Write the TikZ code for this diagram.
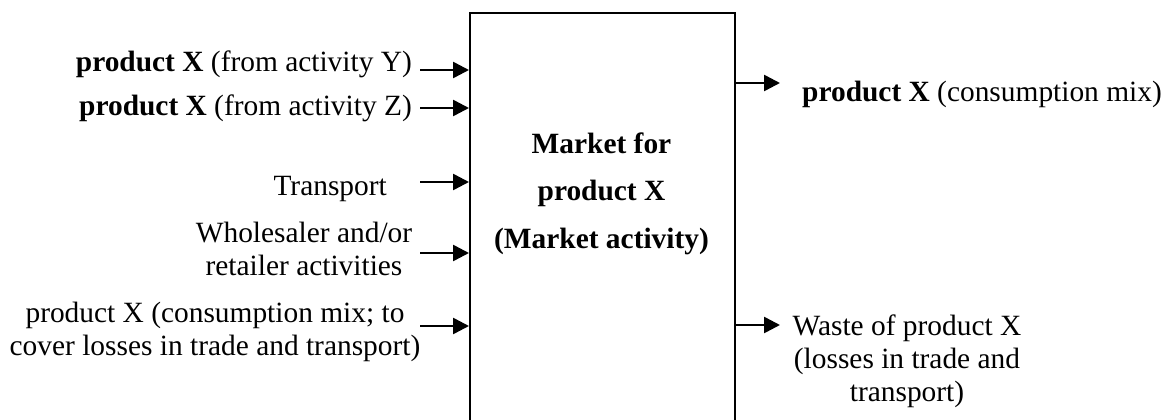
\documentclass[tikz,border=0pt]{standalone}
\usepackage{fontspec}
\setmainfont{Liberation Serif}
\usetikzlibrary{arrows.meta}
\begin{document}
\begin{tikzpicture}[x=1pt,y=-1pt,
  lbl/.style={font=\fontsize{29.4}{33}\selectfont, inner sep=0pt, align=center},
  title/.style={font=\bfseries\fontsize{29.4}{47.5}\selectfont, inner sep=0pt, align=center},
  flow/.style={line width=2.6pt, -{Triangle[length=16pt,width=16pt]}},
  box/.style={draw, line width=2pt, inner sep=0pt}]
\useasboundingbox (0,0) rectangle (1165,420);
\node[box, minimum width=265pt, minimum height=425pt, anchor=north west] (m) at (469,12) {};
\node[title, anchor=base] (mt) at (601.5,248) {Market for\\product X\\(Market activity)};
% inputs
\node[lbl, anchor=base east] (tY) at (412,72) {\textbf{product X} (from activity Y)};
\node[lbl, anchor=base east] (tZ) at (412,115) {\textbf{product X} (from activity Z)};
\node[lbl, anchor=base east] (tT) at (387,195) {Transport};
\node[lbl, anchor=base] (tW) at (304,275) {Wholesaler and/or\\retailer activities};
\node[lbl, anchor=base] (tC) at (215,355) {product X (consumption mix; to\\cover losses in trade and transport)};
% outputs
\node[lbl, anchor=base west] (oP) at (802,101) {\textbf{product X} (consumption mix)};
\node[lbl, anchor=base] (oW) at (907,401) {Waste of product X\\(losses in trade and\\transport)};
% arrow coordinates
\coordinate (sY) at (420,70);
\coordinate (sZ) at (420,108);
\coordinate (sT) at (420,182);
\coordinate (sW) at (420,253);
\coordinate (sC) at (420,326);
\coordinate (eP) at (780,83);
\coordinate (eW) at (780,325);
\draw[flow] (sY) -- (sY -| m.west);
\draw[flow] (sZ) -- (sZ -| m.west);
\draw[flow] (sT) -- (sT -| m.west);
\draw[flow] (sW) -- (sW -| m.west);
\draw[flow] (sC) -- (sC -| m.west);
\draw[flow] (eP -| m.east) -- (eP);
\draw[flow] (eW -| m.east) -- (eW);
\end{tikzpicture}
\end{document}
